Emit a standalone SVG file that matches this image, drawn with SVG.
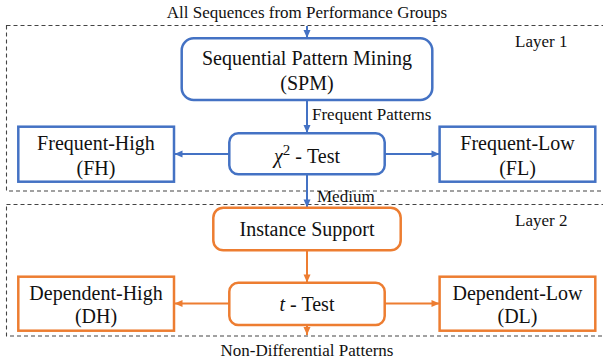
<svg xmlns="http://www.w3.org/2000/svg" width="603" height="362" viewBox="0 0 603 362" font-family="'Liberation Serif','Times New Roman',serif">
<defs>
<style>
text{font-family:"Liberation Serif","Times New Roman",serif;fill:#111}
.lbl{font-size:17px}
.bt{font-size:20px;text-anchor:middle}
.layer{fill:none;stroke:#444;stroke-width:1.1;stroke-dasharray:4 3}
.bb{fill:#fff;stroke:#4472C4;stroke-width:2.5}
.ob{fill:#fff;stroke:#ED7D31;stroke-width:2.5}
.bl{fill:none;stroke:#4472C4;stroke-width:2}
.ol{fill:none;stroke:#ED7D31;stroke-width:2}
</style>
<marker id="ab" markerUnits="userSpaceOnUse" markerWidth="10" markerHeight="10" viewBox="0 0 10 10" refX="9" refY="5" orient="auto"><path d="M1,1.5 L9,5 L1,8.5 Z" fill="#4472C4"/></marker>
<marker id="ao" markerUnits="userSpaceOnUse" markerWidth="10" markerHeight="10" viewBox="0 0 10 10" refX="9" refY="5" orient="auto"><path d="M1,1.5 L9,5 L1,8.5 Z" fill="#ED7D31"/></marker>
</defs>
<rect width="603" height="362" fill="#fff"/>
<g id="layer1"><rect class="layer" x="6.5" y="25.5" width="610" height="165.5"/><text class="lbl" x="515" y="47">Layer 1</text></g>
<g id="layer2"><rect class="layer" x="6.5" y="204.5" width="610" height="131.5"/><text class="lbl" x="515" y="226">Layer 2</text></g>
<g id="connectors">
<line class="bl" x1="307" y1="26" x2="307" y2="38" marker-end="url(#ab)"/>
<line class="bl" x1="307" y1="100" x2="307" y2="133" marker-end="url(#ab)"/>
<line class="bl" x1="229" y1="154" x2="174.5" y2="154" marker-end="url(#ab)"/>
<line class="bl" x1="385" y1="154" x2="439.5" y2="154" marker-end="url(#ab)"/>
<line class="bl" x1="307" y1="174.5" x2="307" y2="207.5" marker-end="url(#ab)"/>
<line class="ol" x1="307" y1="250.5" x2="307" y2="282.5" marker-end="url(#ao)"/>
<line class="ol" x1="229" y1="303.5" x2="174.5" y2="303.5" marker-end="url(#ao)"/>
<line class="ol" x1="385" y1="303.5" x2="439.5" y2="303.5" marker-end="url(#ao)"/>
<line class="ol" x1="307" y1="325" x2="307" y2="335" marker-end="url(#ao)"/>
<text class="lbl" x="307" y="18" text-anchor="middle">All Sequences from Performance Groups</text>
<text class="lbl" x="312" y="120">Frequent Patterns</text>
<text class="lbl" x="317" y="202">Medium</text>
<text class="lbl" x="307" y="356" text-anchor="middle">Non-Differential Patterns</text>
</g>
<g id="spm"><rect class="bb" x="181.7" y="38.3" width="250.6" height="61.7" rx="12"/><text class="bt" x="307" y="65">Sequential Pattern Mining</text><text class="bt" x="307" y="90">(SPM)</text></g>
<g id="chi"><rect class="bb" x="229.3" y="133.3" width="155.4" height="41" rx="9"/><text class="bt" x="307" y="163"><tspan font-style="italic">χ</tspan><tspan font-size="15" dy="-8">2</tspan><tspan dy="8"> - Test</tspan></text></g>
<g id="fh"><rect class="bb" x="18.3" y="126.7" width="155.7" height="55"/><text class="bt" x="96" y="150">Frequent-High</text><text class="bt" x="96" y="175">(FH)</text></g>
<g id="fl"><rect class="bb" x="439.6" y="126.7" width="155.7" height="55"/><text class="bt" x="517.5" y="150">Frequent-Low</text><text class="bt" x="517.5" y="175">(FL)</text></g>
<g id="instance"><rect class="ob" x="213.3" y="207.7" width="187.4" height="42.6" rx="10"/><text class="bt" x="307" y="236">Instance Support</text></g>
<g id="ttest"><rect class="ob" x="229.3" y="282.7" width="155.4" height="42.3" rx="9"/><text class="bt" x="307" y="311"><tspan font-style="italic">t</tspan> - Test</text></g>
<g id="dh"><rect class="ob" x="18.3" y="276.7" width="155.7" height="54"/><text class="bt" x="96" y="300">Dependent-High</text><text class="bt" x="96" y="323">(DH)</text></g>
<g id="dl"><rect class="ob" x="439.6" y="276.7" width="155.7" height="54"/><text class="bt" x="517.5" y="300">Dependent-Low</text><text class="bt" x="517.5" y="323">(DL)</text></g>
</svg>
